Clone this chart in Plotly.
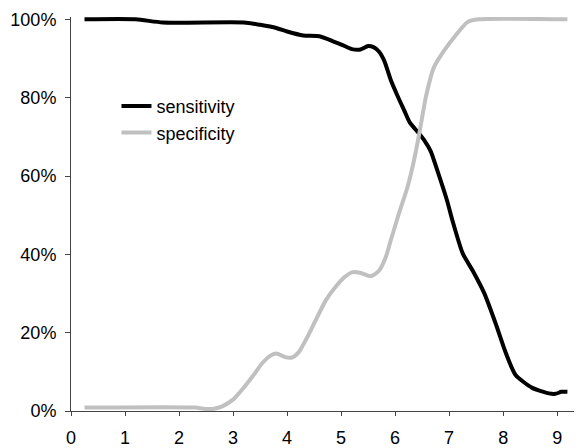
import plotly.graph_objects as go

sens_x = [0.25, 1.2, 1.7, 3.2, 3.5, 3.8, 4.0, 4.3, 4.6, 4.85, 5.05, 5.2, 5.36, 5.5, 5.6, 5.7,
          5.8, 5.92, 6.05, 6.17, 6.27, 6.44, 6.55, 6.66, 6.78, 6.96, 7.06, 7.25, 7.45, 7.65,
          7.86, 8.05, 8.23, 8.54, 8.85, 8.97, 9.08, 9.19]
sens_y = [1.0, 1.0, 0.992, 0.992, 0.986, 0.978, 0.969, 0.959, 0.957, 0.944, 0.933, 0.924,
          0.923, 0.932, 0.929, 0.918, 0.894, 0.845, 0.803, 0.767, 0.737, 0.709, 0.689,
          0.663, 0.615, 0.538, 0.487, 0.403, 0.355, 0.301, 0.224, 0.148, 0.092, 0.059,
          0.045, 0.044, 0.049, 0.049]

spec_x = [0.25, 2.3, 2.45, 2.65, 2.8, 3.0, 3.2, 3.36, 3.54, 3.7, 3.8, 3.98, 4.1, 4.22, 4.38,
          4.53, 4.72, 4.9, 5.05, 5.2, 5.35, 5.55, 5.7, 5.83, 5.92, 6.07, 6.23, 6.35, 6.45,
          6.57, 6.72, 6.91, 7.12, 7.34, 7.55, 9.19]
spec_y = [0.009, 0.009, 0.006, 0.006, 0.012, 0.029, 0.06, 0.088, 0.122, 0.142, 0.147, 0.137,
          0.137, 0.151, 0.19, 0.232, 0.283, 0.317, 0.34, 0.354, 0.353, 0.344, 0.358, 0.394,
          0.436, 0.504, 0.572, 0.64, 0.71, 0.802, 0.878, 0.921, 0.959, 0.993, 1.0, 1.0]

x_ticks = [0, 1, 2, 3, 4, 5, 6, 7, 8, 9]
y_ticks = [0, 0.2, 0.4, 0.6, 0.8, 1.0]

FONT = "Liberation Sans, Arial, sans-serif"

fig = go.Figure()
fig.add_trace(go.Scatter(x=sens_x, y=sens_y, mode="lines", name="sensitivity",
                         legendgroup="a",
                         line=dict(color="#000000", width=4, shape="spline", smoothing=0.6)))
fig.add_trace(go.Scatter(x=spec_x, y=spec_y, mode="lines", name="specificity",
                         legendgroup="b",
                         line=dict(color="#c0c0c0", width=4, shape="spline", smoothing=0.6)))

fig.update_layout(
    width=574, height=440,
    margin=dict(l=63, r=0, t=9, b=37, autoexpand=False),
    paper_bgcolor="white", plot_bgcolor="white",
    font=dict(family=FONT, size=18, color="#000000"),
    showlegend=True,
    legend=dict(x=0.089, y=0.82, xanchor="left", yanchor="top",
                traceorder="grouped", tracegroupgap=0,
                bgcolor="rgba(0,0,0,0)", font=dict(size=18, family=FONT)),
    xaxis=dict(range=[0, 9.46], tickvals=x_ticks, ticks="outside", ticklen=4,
               tickcolor="#444", showline=True, linecolor="#444", linewidth=1,
               showgrid=False, zeroline=False, ticklabelstandoff=6, automargin=False),
    yaxis=dict(range=[0, 1.006], tickvals=y_ticks, tickformat=".0%", ticks="outside",
               ticklen=5, tickcolor="#444", showline=True, linecolor="#444", linewidth=1,
               showgrid=False, zeroline=False, ticklabelstandoff=5, automargin=False),
)

fig.write_html("out.html")
